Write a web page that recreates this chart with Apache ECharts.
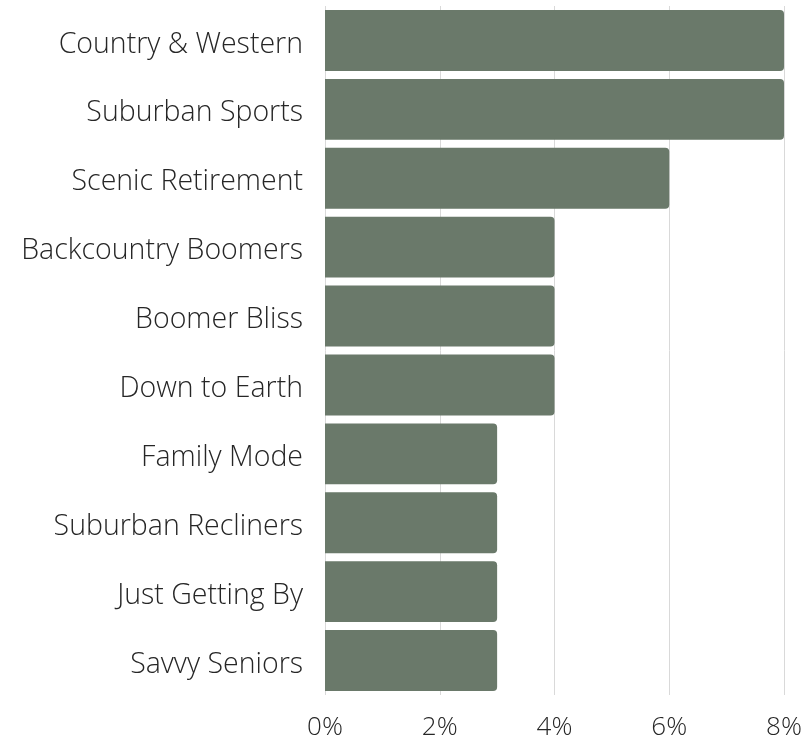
<!DOCTYPE html>
<html>
<head>
<meta charset="utf-8">
<style>
  html, body { margin: 0; padding: 0; background: #ffffff; }
  #chart { width: 805px; height: 741px; }
</style>
<script src="https://cdn.jsdelivr.net/npm/echarts@6/dist/echarts.min.js"></script>
</head>
<body>
<div id="chart"></div>
<script>
// Segment names, top to bottom
const segments = [
  'Country & Western',
  'Suburban Sports',
  'Scenic Retirement',
  'Backcountry Boomers',
  'Boomer Bliss',
  'Down to Earth',
  'Family Mode',
  'Suburban Recliners',
  'Just Getting By',
  'Savvy Seniors'
];
// Share of each segment, in percent
const shares = [8, 8, 6, 4, 4, 4, 3, 3, 3, 3];
// Value-axis ticks, in percent
const tickValues = [0, 2, 4, 6, 8];

const font = '"Open Sans", "Noto Sans", sans-serif';
const chart = echarts.init(document.getElementById('chart'), null, { renderer: 'canvas' });

chart.setOption({
  animation: false,
  grid: { left: 325, right: 21, top: 6, bottom: 46, containLabel: false },
  xAxis: {
    type: 'value',
    min: tickValues[0],
    max: tickValues[tickValues.length - 1],
    interval: tickValues[1] - tickValues[0],
    axisLine: { show: false },
    axisTick: { show: false },
    splitLine: { show: true, lineStyle: { color: '#d9d9d9', width: 1 } },
    axisLabel: {
      formatter: v => v + '%',
      fontFamily: font,
      fontWeight: 300,
      fontSize: 26,
      color: '#262626',
      margin: 20
    }
  },
  yAxis: {
    type: 'category',
    data: segments,
    inverse: true,
    axisLine: { show: false },
    axisTick: { show: false },
    splitLine: { show: false },
    axisLabel: {
      margin: 22,
      formatter: v => '{name|' + v + '}',
      rich: {
        name: {
          fontFamily: font,
          fontWeight: 300,
          fontSize: 28.5,
          color: '#262626',
          padding: [8, 0, 0, 0]
        }
      }
    }
  },
  series: [{
    type: 'bar',
    data: shares,
    barCategoryGap: '11.6%',
    itemStyle: { color: '#6a796a', borderRadius: [0, 4, 4, 0] }
  }]
});
</script>
</body>
</html>
